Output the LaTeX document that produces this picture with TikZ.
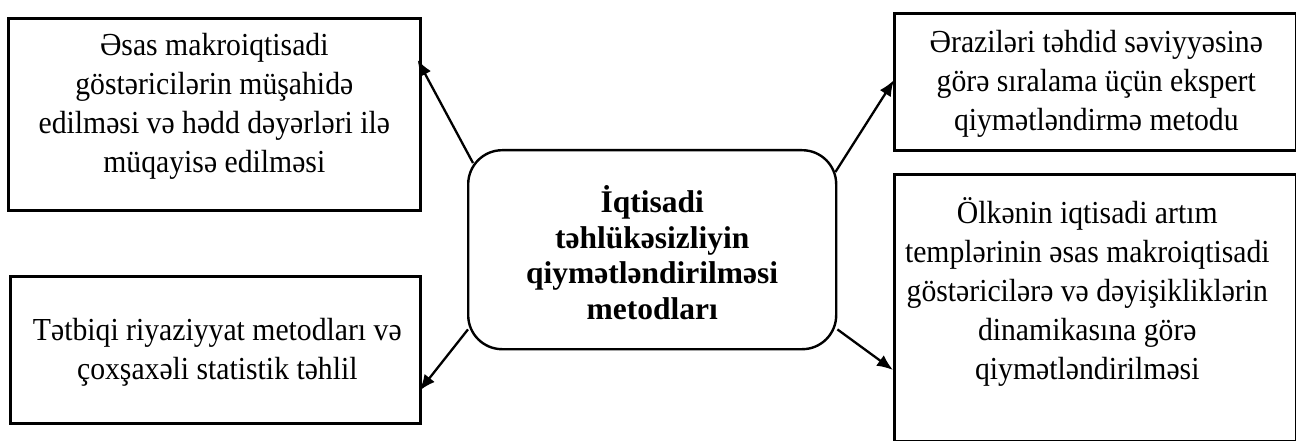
\documentclass[tikz,border=0pt]{standalone}
\usepackage{fontspec}
\usepackage{graphicx}
\setmainfont{Liberation Serif}
\usetikzlibrary{arrows.meta,calc}
\newcommand{\stretchtxt}[1]{\scalebox{1}[1.08]{\begin{tabular}{@{}c@{}}#1\end{tabular}}}
\begin{document}
\begin{tikzpicture}[x=1pt,y=-1pt,
  sidebox/.style={draw,line width=2.6pt,rectangle,inner sep=0pt,anchor=north west},
  mainbox/.style={draw,line width=2.4pt,rectangle,rounded corners=34pt,inner sep=0pt,anchor=north west,
    minimum width=368pt,minimum height=199pt},
  bodytxt/.style={align=center,inner sep=0pt,font=\fontsize{29.7}{36}\selectfont},
  maintxt/.style={align=center,inner sep=0pt,font=\bfseries\fontsize{31.5}{35.5}\selectfont},
  conn/.style={line width=2.3pt,-{Latex[length=16pt,width=13pt]}}]
\useasboundingbox (0,0) rectangle (1296,441);
% boxes
\node[sidebox,minimum width=412pt,minimum height=192pt] (tl) at (7,17) {};
\node[sidebox,minimum width=410pt,minimum height=147pt] (bl) at (9,275) {};
\node[sidebox,minimum width=402pt,minimum height=137pt] (tr) at (893,12) {};
\node[sidebox,minimum width=402pt,minimum height=267pt] (br) at (893,173) {};
\node[mainbox] (c) at (467,149) {};
% texts
\node[bodytxt] (tlt) at ($(tl.center)+(0,-8)$) {\stretchtxt{Əsas makroiqtisadi\\göstəricilərin müşahidə\\edilməsi və hədd dəyərləri ilə\\müqayisə edilməsi}};
\node[bodytxt] (blt) at ($(bl.center)+(2,2)$) {\stretchtxt{Tətbiqi riyaziyyat metodları və\\çoxşaxəli statistik təhlil}};
\node[bodytxt] (trt) at ($(tr.center)+(1,2)$) {\stretchtxt{Əraziləri təhdid səviyyəsinə\\görə sıralama üçün ekspert\\qiymətləndirmə metodu}};
\node[bodytxt] (brt) at ($(br.center)+(-8,-14)$) {\stretchtxt{Ölkənin iqtisadi artım\\templərinin əsas makroiqtisadi\\göstəricilərə və dəyişikliklərin\\dinamikasına görə\\qiymətləndirilməsi}};
\node[maintxt] (ct) at ($(c.center)+(0,3)$) {İqtisadi\\təhlükəsizliyin\\qiymətləndirilməsi\\metodları};
% connectors
\draw[conn] ($(c.north west)+(6,14)$) -- ($(tl.north east)+(-4,43)$);
\draw[conn] ($(c.south west)+(1,-21)$) -- ($(bl.south east)+(-2,-34)$);
\draw[conn] ($(c.north east)+(-2,23)$) -- ($(tr.north west)+(1,68)$);
\draw[conn] ($(c.south east)+(0,-21)$) -- ($(br.north west)+(0,197)$);
\end{tikzpicture}
\end{document}
